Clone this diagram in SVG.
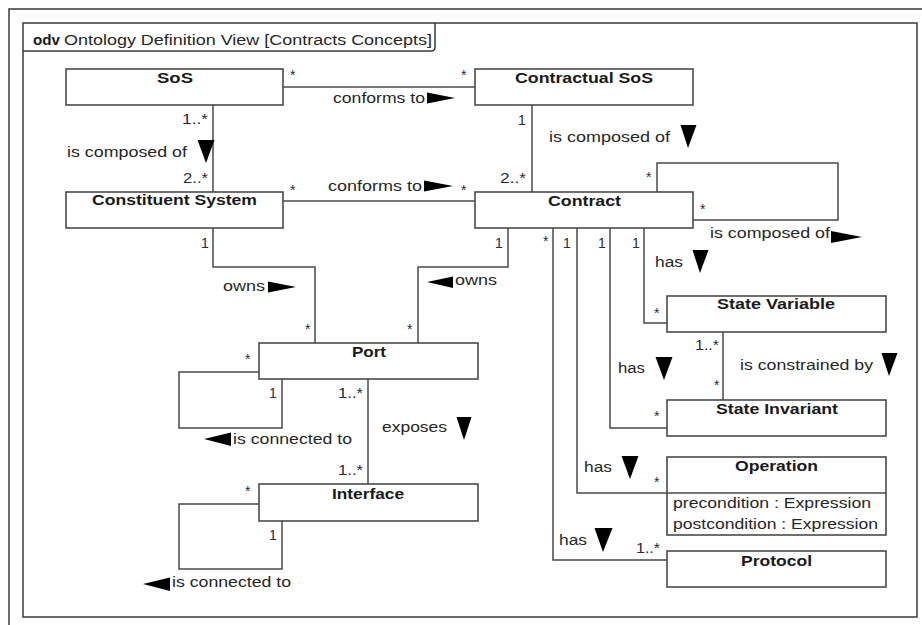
<svg xmlns="http://www.w3.org/2000/svg" width="922" height="625" viewBox="0 0 922 625">
  <style>
    .frame { fill: none; stroke: #3a3a3a; stroke-width: 1.5; }
    .box { fill: #ffffff; stroke: #4a4a4a; stroke-width: 1.6; }
    .conn { fill: none; stroke: #4a4a4a; stroke-width: 1.5; }
    .tri { fill: #000000; }
    .name { font-family: "Liberation Sans", Arial, sans-serif; font-size: 14px; font-weight: bold; fill: #1a1a1a; }
    .lbl { font-family: "Liberation Sans", Arial, sans-serif; font-size: 14px; fill: #262626; }
    .mult { font-family: "Liberation Sans", Arial, sans-serif; font-size: 14px; fill: #2a2a3a; }
    .mid { text-anchor: middle; }
  </style>

  <rect x="0" y="0" width="922" height="625" fill="#ffffff"/>

  <!-- outer border and diagram frame with its heading tab -->
  <g id="frame">
    <path class="frame" d="M9,625 V9 H922"/>
    <rect class="frame" x="23" y="23" width="894" height="594" stroke="#555555"/>
    <path class="frame" d="M23,51 H431 Q435,51 435,47 V23" stroke="#555555"/>
    <text class="name" x="33" y="45" textLength="27" lengthAdjust="spacingAndGlyphs">odv</text>
    <text class="lbl" x="64" y="45" textLength="368" lengthAdjust="spacingAndGlyphs" fill="#1e2440">Ontology Definition View [Contracts Concepts]</text>
  </g>

  <!-- associations -->
  <g id="connectors">
    <path class="conn" d="M283,87 H475"/>
    <path class="conn" d="M213,105 V192"/>
    <path class="conn" d="M283,201 H475"/>
    <path class="conn" d="M532,105 V192"/>
    <path class="conn" d="M657,192 V163 H838 V220 H693"/>
    <path class="conn" d="M213,228 V267 H315 V343"/>
    <path class="conn" d="M508,228 V267 H418 V343"/>
    <path class="conn" d="M644,228 V323 H667"/>
    <path class="conn" d="M610,228 V428 H667"/>
    <path class="conn" d="M577,228 V493 H667"/>
    <path class="conn" d="M553,228 V560 H667"/>
    <path class="conn" d="M723,332 V400"/>
    <path class="conn" d="M259,372 H179 V428 H282 V379"/>
    <path class="conn" d="M368,379 V484"/>
    <path class="conn" d="M259,504 H179 V569 H282 V521"/>

    <!-- reading-direction triangles -->
    <polygon class="tri" points="427,92.5 455,98 427,103.5"/>
    <polygon class="tri" points="424,180.5 453,186 424,191.5"/>
    <polygon class="tri" points="831,231 862,237 831,243"/>
    <polygon class="tri" points="268,281.5 296,287 268,292.5"/>
    <polygon class="tri" points="427,282 453,276.5 453,288"/>
    <polygon class="tri" points="204,439 231,432.5 231,446"/>
    <polygon class="tri" points="143,584 170,577.5 170,591"/>
    <polygon class="tri" points="197.5,140 214.5,140 206,163"/>
    <polygon class="tri" points="680.5,125 696.5,125 688,148"/>
    <polygon class="tri" points="692.5,250 708.5,250 700,273"/>
    <polygon class="tri" points="655.5,357 672.5,357 664,380"/>
    <polygon class="tri" points="621.5,456 638.5,456 630,479"/>
    <polygon class="tri" points="594.5,528 612.5,528 603,552"/>
    <polygon class="tri" points="881.5,353 897.5,353 889,376"/>
    <polygon class="tri" points="456.5,417 471.5,417 464,440"/>

    <!-- association names -->
    <text class="lbl" x="333" y="103" textLength="92" lengthAdjust="spacingAndGlyphs">conforms to</text>
    <text class="lbl" x="328" y="191" textLength="94" lengthAdjust="spacingAndGlyphs">conforms to</text>
    <text class="lbl" x="67" y="157" textLength="120" lengthAdjust="spacingAndGlyphs">is composed of</text>
    <text class="lbl" x="549" y="142" textLength="121" lengthAdjust="spacingAndGlyphs">is composed of</text>
    <text class="lbl" x="710" y="238" textLength="120" lengthAdjust="spacingAndGlyphs">is composed of</text>
    <text class="lbl" x="223" y="291" textLength="42" lengthAdjust="spacingAndGlyphs">owns</text>
    <text class="lbl" x="455" y="285" textLength="42" lengthAdjust="spacingAndGlyphs">owns</text>
    <text class="lbl" x="655" y="267" textLength="28" lengthAdjust="spacingAndGlyphs">has</text>
    <text class="lbl" x="618" y="373" textLength="27" lengthAdjust="spacingAndGlyphs">has</text>
    <text class="lbl" x="584" y="472" textLength="28" lengthAdjust="spacingAndGlyphs">has</text>
    <text class="lbl" x="559" y="545" textLength="28" lengthAdjust="spacingAndGlyphs">has</text>
    <text class="lbl" x="740" y="370" textLength="133" lengthAdjust="spacingAndGlyphs">is constrained by</text>
    <text class="lbl" x="382" y="432" textLength="65" lengthAdjust="spacingAndGlyphs">exposes</text>
    <text class="lbl" x="233" y="444" textLength="119" lengthAdjust="spacingAndGlyphs">is connected to</text>
    <text class="lbl" x="172" y="587" textLength="119" lengthAdjust="spacingAndGlyphs">is connected to</text>

    <!-- multiplicities -->
    <text class="mult" x="290" y="80">*</text>
    <text class="mult" x="461" y="80">*</text>
    <text class="mult" x="182" y="124" textLength="26" lengthAdjust="spacingAndGlyphs">1..*</text>
    <text class="mult" x="183" y="183" textLength="25" lengthAdjust="spacingAndGlyphs">2..*</text>
    <text class="mult mid" x="522" y="125">1</text>
    <text class="mult" x="500" y="183" textLength="26" lengthAdjust="spacingAndGlyphs">2..*</text>
    <text class="mult" x="290" y="195">*</text>
    <text class="mult" x="461" y="195">*</text>
    <text class="mult" x="646" y="182">*</text>
    <text class="mult" x="700" y="214">*</text>
    <text class="mult mid" x="205" y="248">1</text>
    <text class="mult mid" x="499" y="248">1</text>
    <text class="mult" x="543" y="246">*</text>
    <text class="mult mid" x="567" y="248">1</text>
    <text class="mult mid" x="602" y="248">1</text>
    <text class="mult mid" x="636" y="248">1</text>
    <text class="mult" x="305" y="334">*</text>
    <text class="mult" x="407" y="334">*</text>
    <text class="mult" x="245" y="364">*</text>
    <text class="mult mid" x="273" y="398">1</text>
    <text class="mult" x="338" y="398" textLength="25" lengthAdjust="spacingAndGlyphs">1..*</text>
    <text class="mult" x="338" y="475" textLength="25" lengthAdjust="spacingAndGlyphs">1..*</text>
    <text class="mult" x="245" y="496">*</text>
    <text class="mult mid" x="273" y="540">1</text>
    <text class="mult" x="654" y="318">*</text>
    <text class="mult" x="695" y="350" textLength="24" lengthAdjust="spacingAndGlyphs">1..*</text>
    <text class="mult" x="714" y="390">*</text>
    <text class="mult" x="654" y="421">*</text>
    <text class="mult" x="654" y="487">*</text>
    <text class="mult" x="636" y="553" textLength="24" lengthAdjust="spacingAndGlyphs">1..*</text>
  </g>

  <!-- blocks -->
  <g id="sos">
    <rect class="box" x="66" y="69" width="217" height="36"/>
    <text class="name" x="157" y="83" textLength="36" lengthAdjust="spacingAndGlyphs">SoS</text>
  </g>
  <g id="contractual-sos">
    <rect class="box" x="475" y="69" width="218" height="36"/>
    <text class="name" x="515" y="83" textLength="138" lengthAdjust="spacingAndGlyphs">Contractual SoS</text>
  </g>
  <g id="constituent-system">
    <rect class="box" x="66" y="192" width="217" height="36"/>
    <text class="name" x="92" y="205" textLength="165" lengthAdjust="spacingAndGlyphs">Constituent System</text>
  </g>
  <g id="contract">
    <rect class="box" x="475" y="192" width="218" height="36"/>
    <text class="name" x="548" y="206" textLength="73" lengthAdjust="spacingAndGlyphs">Contract</text>
  </g>
  <g id="port">
    <rect class="box" x="259" y="343" width="219" height="36"/>
    <text class="name" x="352" y="357" textLength="34" lengthAdjust="spacingAndGlyphs">Port</text>
  </g>
  <g id="interface">
    <rect class="box" x="259" y="484" width="219" height="37"/>
    <text class="name" x="332" y="499" textLength="72" lengthAdjust="spacingAndGlyphs">Interface</text>
  </g>
  <g id="state-variable">
    <rect class="box" x="667" y="296" width="219" height="36"/>
    <text class="name" x="717" y="309" textLength="118" lengthAdjust="spacingAndGlyphs">State Variable</text>
  </g>
  <g id="state-invariant">
    <rect class="box" x="667" y="400" width="219" height="36"/>
    <text class="name" x="716" y="414" textLength="122" lengthAdjust="spacingAndGlyphs">State Invariant</text>
  </g>
  <g id="operation">
    <rect class="box" x="667" y="457" width="219" height="78"/>
    <line class="conn" x1="667" y1="493" x2="886" y2="493"/>
    <text class="name" x="735" y="471" textLength="83" lengthAdjust="spacingAndGlyphs">Operation</text>
    <text class="lbl" x="673" y="508" textLength="198" lengthAdjust="spacingAndGlyphs">precondition : Expression</text>
    <text class="lbl" x="673" y="529" textLength="205" lengthAdjust="spacingAndGlyphs">postcondition : Expression</text>
  </g>
  <g id="protocol">
    <rect class="box" x="667" y="551" width="219" height="36"/>
    <text class="name" x="741" y="566" textLength="71" lengthAdjust="spacingAndGlyphs">Protocol</text>
  </g>
</svg>
